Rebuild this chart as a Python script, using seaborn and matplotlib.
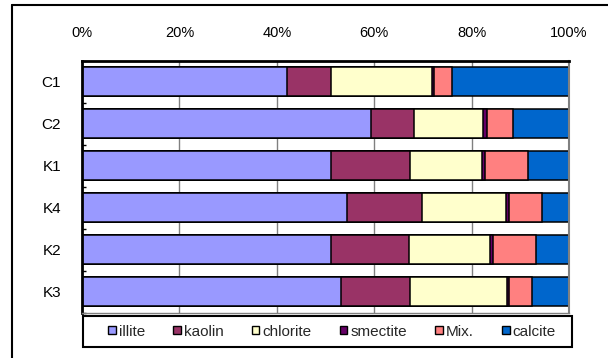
import numpy as np
import pandas as pd
import matplotlib
matplotlib.use("Agg")
import matplotlib.pyplot as plt
from matplotlib.patches import Patch, Rectangle
from matplotlib.lines import Line2D
from matplotlib.ticker import FixedLocator
import seaborn as sns

# Clay mineral composition per sample (percent of total)
samples = ["C1", "C2", "K1", "K4", "K2", "K3"]
minerals = ["illite", "kaolin", "chlorite", "smectite", "Mix.", "calcite"]
illite = [42.1, 59.3, 51.1, 54.4, 51.1, 53.2]
kaolin = [9.0, 8.9, 16.3, 15.5, 16.0, 14.2]
chlorite = [20.8, 14.2, 14.7, 17.1, 16.6, 19.8]
smectite = [0.4, 0.8, 0.6, 0.6, 0.6, 0.4]
mixed = [3.7, 5.4, 8.8, 6.8, 8.9, 4.7]
calcite = [24.0, 11.4, 8.5, 5.6, 6.8, 7.7]
tick_labels = ["0%", "20%", "40%", "60%", "80%", "100%"]

colors = ["#9999FF", "#993366", "#FFFFCC", "#660066", "#FF8080", "#0066CC"]

sns.set_theme(style="white")
plt.rcParams["font.family"] = ["Liberation Sans", "DejaVu Sans"]

df = pd.DataFrame({"sample": samples, "illite": illite, "kaolin": kaolin,
                   "chlorite": chlorite, "smectite": smectite,
                   "Mix.": mixed, "calcite": calcite})
cum = df[minerals].cumsum(axis=1)
cum["sample"] = df["sample"]

fig = plt.figure(figsize=(6.08, 3.58), dpi=100)
ax = fig.add_axes([82 / 608, 1 - 312.5 / 358, 487 / 608, 252 / 358])

# Stacked bars: draw cumulative totals from the outermost segment inward
for mineral, color in reversed(list(zip(minerals, colors))):
    sns.barplot(data=cum, x=mineral, y="sample", order=samples, orient="h",
                color=color, saturation=1, width=0.67, edgecolor="black",
                linewidth=1.1, ax=ax, zorder=2)

ax.set_xlim(0, 100)
ax.set_ylim(5.5, -0.5)
ax.set_xlabel("")
ax.set_ylabel("")

ax.xaxis.tick_top()
ax.set_xticks(np.linspace(0, 100, len(tick_labels)))
ax.set_xticklabels(tick_labels)
ax.tick_params(axis="x", which="both", length=0, pad=15, labelsize=10.5,
               colors="black")
ax.tick_params(axis="y", which="major", length=0, pad=15, labelsize=11,
               colors="black")
ax.yaxis.set_minor_locator(FixedLocator(np.arange(-0.5, 6.0, 1.0)))
ax.tick_params(axis="y", which="minor", direction="in", length=3, width=1,
               color="black", left=True)

ax.xaxis.grid(True, color="#808080", linewidth=1)
ax.yaxis.grid(False)
ax.set_axisbelow(True)

ax.spines["top"].set_color("black")
ax.spines["top"].set_linewidth(2)
ax.spines["left"].set_color("black")
ax.spines["left"].set_linewidth(2)
ax.spines["right"].set_color("#808080")
ax.spines["right"].set_linewidth(1.5)
ax.spines["bottom"].set_color("#808080")
ax.spines["bottom"].set_linewidth(1)

# Legend with its own box
handles = [Patch(facecolor=c, edgecolor="black", linewidth=1, label=m)
           for m, c in zip(minerals, colors)]
fig.add_artist(Rectangle((83 / 608, 1 - 347 / 358), 489 / 608, 31 / 358,
                         transform=fig.transFigure, facecolor="white",
                         edgecolor="black", linewidth=1.5))
fig.legend(handles=handles, loc="center", ncol=6, mode="expand",
           bbox_to_anchor=(108 / 608, 1 - 347 / 358, 448 / 608, 31 / 358),
           frameon=False, fontsize=11, handlelength=0.5, handleheight=0.5,
           handletextpad=0.2, borderpad=0, borderaxespad=0)

# Outer chart frame
fig.add_artist(Line2D([11.5 / 608, 11.5 / 608], [0, 1 - 5 / 358],
                      transform=fig.transFigure, color="black", linewidth=1.5))
fig.add_artist(Line2D([11.5 / 608, 1], [1 - 5 / 358, 1 - 5 / 358],
                      transform=fig.transFigure, color="black", linewidth=1.5))

fig.savefig("out.png", dpi=100)
